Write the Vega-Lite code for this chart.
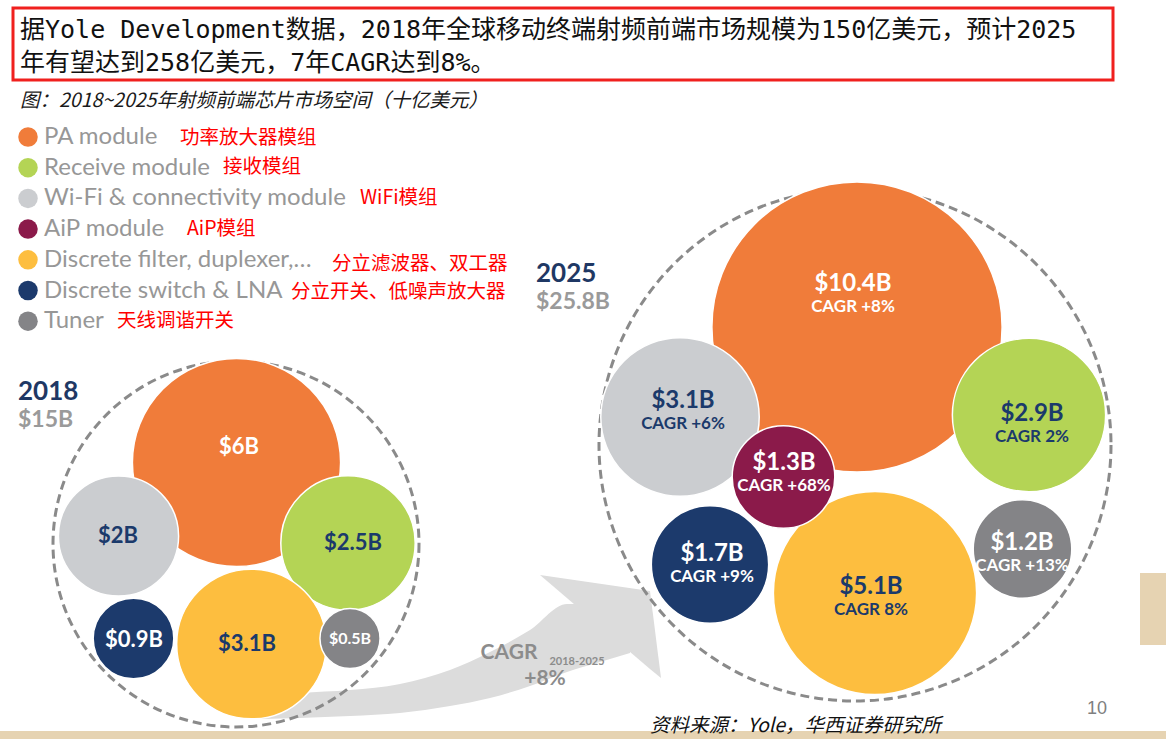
{
  "$schema": "https://vega.github.io/schema/vega-lite/v6.json",
  "width": 1166,
  "height": 739,
  "autosize": {"type": "fit", "contains": "padding"},
  "padding": 0,
  "background": "#ffffff",
  "config": {"view": {"stroke": null}},
  "datasets": {
    "b2018": [
      {"year": "2018", "module": "PA module", "value": 6, "x": 236.5, "y": 462.5, "label": "$6B", "lx": 239, "ly": 447},
      {"year": "2018", "module": "Discrete switch & LNA", "value": 0.9, "x": 133.5, "y": 638.5, "label": "$0.9B", "lx": 134, "ly": 640},
      {"year": "2018", "module": "Wi-Fi & connectivity module", "value": 2, "x": 118.5, "y": 536, "label": "$2B", "lx": 118, "ly": 536},
      {"year": "2018", "module": "Receive module", "value": 2.5, "x": 348, "y": 543, "label": "$2.5B", "lx": 353, "ly": 543},
      {"year": "2018", "module": "Discrete filter, duplexer,…", "value": 3.1, "x": 251.5, "y": 644, "label": "$3.1B", "lx": 247, "ly": 644},
      {"year": "2018", "module": "Tuner", "value": 0.5, "x": 350, "y": 638.5, "label": "$0.5B", "lx": 350, "ly": 639}
    ],
    "b2025": [
      {"year": "2025", "module": "PA module", "value": 10.4, "x": 857, "y": 327, "label": "$10.4B", "cagr": "CAGR +8%", "lx": 853, "ly": 284},
      {"year": "2025", "module": "Receive module", "value": 2.9, "x": 1029, "y": 415, "label": "$2.9B", "cagr": "CAGR 2%", "lx": 1032, "ly": 414},
      {"year": "2025", "module": "Tuner", "value": 1.2, "x": 1022.5, "y": 549, "label": "$1.2B", "cagr": "CAGR +13%", "lx": 1022, "ly": 543},
      {"year": "2025", "module": "Discrete filter, duplexer,…", "value": 5.1, "x": 875, "y": 593, "label": "$5.1B", "cagr": "CAGR 8%", "lx": 871, "ly": 587},
      {"year": "2025", "module": "Wi-Fi & connectivity module", "value": 3.1, "x": 680, "y": 417, "label": "$3.1B", "cagr": "CAGR +6%", "lx": 683, "ly": 401},
      {"year": "2025", "module": "Discrete switch & LNA", "value": 1.7, "x": 710, "y": 564.5, "label": "$1.7B", "cagr": "CAGR +9%", "lx": 712, "ly": 554},
      {"year": "2025", "module": "AiP module", "value": 1.3, "x": 783.5, "y": 477, "label": "$1.3B", "cagr": "CAGR +68%", "lx": 784, "ly": 463}
    ],
    "rings": [
      {"year": "2018", "total": 15, "x": 236, "y": 544},
      {"year": "2025", "total": 25.8, "x": 855, "y": 445}
    ]
  },
  "encoding": {
    "x": {"field": "x", "type": "quantitative", "scale": {"domain": [0, 1166], "nice": false, "zero": false}, "axis": null},
    "y": {"field": "y", "type": "quantitative", "scale": {"domain": [0, 739], "reverse": true, "nice": false, "zero": false}, "axis": null}
  },
  "layer": [
    {
      "data": {"values": [
        {"part": "strip", "x": 0, "x2": 1166, "y": 731, "y2": 739},
        {"part": "block", "x": 1140, "x2": 1166, "y": 573, "y2": 645}
      ]},
      "mark": {"type": "rect", "color": "#E6D3B2"},
      "encoding": {"x2": {"field": "x2"}, "y2": {"field": "y2"}}
    },
    {
      "data": {"values": [{"x": 13, "x2": 1113, "y": 8, "y2": 80}]},
      "mark": {"type": "rect", "filled": false, "color": "#F0201E", "strokeWidth": 3},
      "encoding": {"x2": {"field": "x2"}, "y2": {"field": "y2"}}
    },
    {
      "data": {"values": [
        {"x": 262, "y": 696, "y2": 719},
        {"x": 300, "y": 693, "y2": 718},
        {"x": 350, "y": 690, "y2": 716},
        {"x": 400, "y": 684, "y2": 713},
        {"x": 450, "y": 670, "y2": 706},
        {"x": 490, "y": 652, "y2": 698},
        {"x": 530, "y": 630, "y2": 686},
        {"x": 567, "y": 604, "y2": 672},
        {"x": 600, "y": 606, "y2": 662},
        {"x": 630, "y": 615, "y2": 653}
      ]},
      "mark": {"type": "area", "color": "#DCDCDC", "interpolate": "monotone"},
      "encoding": {"y2": {"field": "y2"}}
    },
    {
      "data": {"values": [
        {"x": 540, "y": 575, "y2": 575},
        {"x": 650, "y": 591, "y2": 669},
        {"x": 661, "y": 678, "y2": 678}
      ]},
      "mark": {"type": "area", "color": "#DCDCDC"},
      "encoding": {"y2": {"field": "y2"}}
    },
    {
      "data": {"name": "rings"},
      "mark": {"type": "point", "shape": "circle", "filled": false, "color": "#8A8A8A", "strokeWidth": 3, "strokeDash": [9, 5], "opacity": 1},
      "encoding": {
        "size": {"field": "total", "type": "quantitative", "scale": {"domain": [15, 25.8], "range": [133956, 262144], "zero": false}, "legend": null}
      }
    },
    {
      "data": {"name": "b2018"},
      "mark": {"type": "point", "shape": "circle", "filled": true, "opacity": 1, "stroke": "#ffffff", "strokeWidth": 1.5},
      "encoding": {
        "color": {"field": "module", "type": "nominal",
          "scale": {"domain": ["PA module", "Receive module", "Wi-Fi & connectivity module", "AiP module", "Discrete filter, duplexer,…", "Discrete switch & LNA", "Tuner"],
                    "range": ["#F07C3A", "#B4D455", "#CBCDD0", "#8B1A4A", "#FDBE3F", "#1C3A6C", "#848487"]},
          "legend": {"title": null, "orient": "none", "legendX": 16, "legendY": 125, "padding": 0, "symbolType": "circle", "symbolSize": 380, "symbolStrokeWidth": 0, "labelFont": "Lato", "labelFontSize": 24, "labelColor": "#979797", "labelOffset": 4, "labelLimit": 500, "rowPadding": 6.7}},
        "size": {"field": "value", "type": "quantitative", "scale": {"domain": [0, 6], "range": [0, 43350]}, "legend": null}
      }
    },
    {
      "data": {"name": "b2025"},
      "mark": {"type": "point", "shape": "circle", "filled": true, "opacity": 1, "stroke": "#ffffff", "strokeWidth": 1.5},
      "encoding": {
        "color": {"field": "module", "type": "nominal",
          "scale": {"domain": ["PA module", "Receive module", "Wi-Fi & connectivity module", "AiP module", "Discrete filter, duplexer,…", "Discrete switch & LNA", "Tuner"],
                    "range": ["#F07C3A", "#B4D455", "#CBCDD0", "#8B1A4A", "#FDBE3F", "#1C3A6C", "#848487"]},
          "legend": {"title": null, "orient": "none", "legendX": 16, "legendY": 125, "padding": 0, "symbolType": "circle", "symbolSize": 380, "symbolStrokeWidth": 0, "labelFont": "Lato", "labelFontSize": 24, "labelColor": "#979797", "labelOffset": 4, "labelLimit": 500, "rowPadding": 6.7}},
        "size": {"field": "value", "type": "quantitative", "scale": {"domain": [0, 10.4], "range": [0, 84240]}, "legend": null}
      }
    },
    {
      "data": {"name": "b2018"},
      "mark": {"type": "text", "font": "Lato", "fontWeight": "bold", "align": "center", "baseline": "middle"},
      "encoding": {
        "x": {"field": "lx", "type": "quantitative", "scale": {"domain": [0, 1166], "nice": false, "zero": false}, "axis": null},
        "y": {"field": "ly", "type": "quantitative", "scale": {"domain": [0, 739], "reverse": true, "nice": false, "zero": false}, "axis": null},
        "text": {"field": "label"},
        "size": {"field": "value", "type": "quantitative", "scale": {"type": "threshold", "domain": [0.7], "range": [16, 22]}, "legend": null},
        "color": {"condition": {"test": "indexof(['Receive module','Wi-Fi & connectivity module','Discrete filter, duplexer,…'], datum.module) >= 0", "value": "#1B3A6B"}, "value": "#FFFFFF"}
      }
    },
    {
      "data": {"name": "b2025"},
      "mark": {"type": "text", "font": "Lato", "fontWeight": "bold", "align": "center", "baseline": "middle", "fontSize": 24},
      "encoding": {
        "x": {"field": "lx", "type": "quantitative", "scale": {"domain": [0, 1166], "nice": false, "zero": false}, "axis": null},
        "y": {"field": "ly", "type": "quantitative", "scale": {"domain": [0, 739], "reverse": true, "nice": false, "zero": false}, "axis": null},
        "text": {"field": "label"},
        "color": {"condition": {"test": "indexof(['Receive module','Wi-Fi & connectivity module','Discrete filter, duplexer,…'], datum.module) >= 0", "value": "#1B3A6B"}, "value": "#FFFFFF"}
      }
    },
    {
      "data": {"name": "b2025"},
      "mark": {"type": "text", "font": "Lato", "fontWeight": "bold", "align": "center", "baseline": "middle", "fontSize": 17, "dy": 23},
      "encoding": {
        "x": {"field": "lx", "type": "quantitative", "scale": {"domain": [0, 1166], "nice": false, "zero": false}, "axis": null},
        "y": {"field": "ly", "type": "quantitative", "scale": {"domain": [0, 739], "reverse": true, "nice": false, "zero": false}, "axis": null},
        "text": {"field": "cagr"},
        "color": {"condition": {"test": "indexof(['Receive module','Wi-Fi & connectivity module','Discrete filter, duplexer,…'], datum.module) >= 0", "value": "#1B3A6B"}, "value": "#FFFFFF"}
      }
    },
    {
      "data": {"values": [
        {"x": 509, "y": 653, "text": "CAGR"},
        {"x": 545, "y": 679, "text": "+8%"}
      ]},
      "mark": {"type": "text", "font": "Lato", "fontWeight": "bold", "fontSize": 21, "align": "center", "baseline": "middle", "color": "#8C8C8C"},
      "encoding": {"text": {"field": "text"}}
    },
    {
      "data": {"values": [{"x": 577, "y": 662, "text": "2018-2025"}]},
      "mark": {"type": "text", "font": "Lato", "fontWeight": "bold", "fontSize": 11, "align": "center", "baseline": "middle", "color": "#8C8C8C"},
      "encoding": {"text": {"field": "text"}}
    },
    {
      "data": {"values": [
        {"x": 20, "y": 30, "text": "据Yole Development数据，2018年全球移动终端射频前端市场规模为150亿美元，预计2025"},
        {"x": 20, "y": 63, "text": "年有望达到258亿美元，7年CAGR达到8%。"}
      ]},
      "mark": {"type": "text", "font": "DejaVu Sans Mono, Noto Sans CJK SC", "fontSize": 25, "align": "left", "baseline": "middle", "color": "#111111"},
      "encoding": {"text": {"field": "text"}}
    },
    {
      "data": {"values": [{"x": 20, "y": 101, "text": "图：2018~2025年射频前端芯片市场空间（十亿美元）"}]},
      "mark": {"type": "text", "font": "Noto Sans CJK SC", "fontSize": 19.5, "fontStyle": "italic", "align": "left", "baseline": "middle", "color": "#1A1A1A"},
      "encoding": {"text": {"field": "text"}}
    },
    {
      "data": {"values": [
        {"x": 180, "y": 138, "text": "功率放大器模组"},
        {"x": 223, "y": 167, "text": "接收模组"},
        {"x": 360, "y": 198, "text": "WiFi模组"},
        {"x": 187, "y": 229, "text": "AiP模组"},
        {"x": 332, "y": 264, "text": "分立滤波器、双工器"},
        {"x": 291, "y": 292, "text": "分立开关、低噪声放大器"},
        {"x": 117, "y": 321, "text": "天线调谐开关"}
      ]},
      "mark": {"type": "text", "font": "Noto Sans CJK SC", "fontSize": 19.5, "align": "left", "baseline": "middle", "color": "#FF0000"},
      "encoding": {"text": {"field": "text"}}
    },
    {
      "data": {"values": [
        {"x": 18, "y": 392, "text": "2018"},
        {"x": 536, "y": 274, "text": "2025"}
      ]},
      "mark": {"type": "text", "font": "Lato", "fontWeight": "bold", "fontSize": 26, "align": "left", "baseline": "middle", "color": "#1F3864"},
      "encoding": {"text": {"field": "text"}}
    },
    {
      "data": {"values": [
        {"x": 18, "y": 420, "text": "$15B"},
        {"x": 536, "y": 302, "text": "$25.8B"}
      ]},
      "mark": {"type": "text", "font": "Lato", "fontWeight": "bold", "fontSize": 23, "align": "left", "baseline": "middle", "color": "#9A9A9A"},
      "encoding": {"text": {"field": "text"}}
    },
    {
      "data": {"values": [{"x": 1097, "y": 709, "text": "10"}]},
      "mark": {"type": "text", "font": "Liberation Sans", "fontSize": 18, "align": "center", "baseline": "middle", "color": "#7F7F7F"},
      "encoding": {"text": {"field": "text"}}
    },
    {
      "data": {"values": [{"x": 650, "y": 726, "text": "资料来源：Yole，华西证券研究所"}]},
      "mark": {"type": "text", "font": "Noto Sans CJK SC", "fontSize": 19.5, "fontStyle": "italic", "align": "left", "baseline": "middle", "color": "#111111"},
      "encoding": {"text": {"field": "text"}}
    }
  ],
  "resolve": {"scale": {"size": "independent"}}
}
